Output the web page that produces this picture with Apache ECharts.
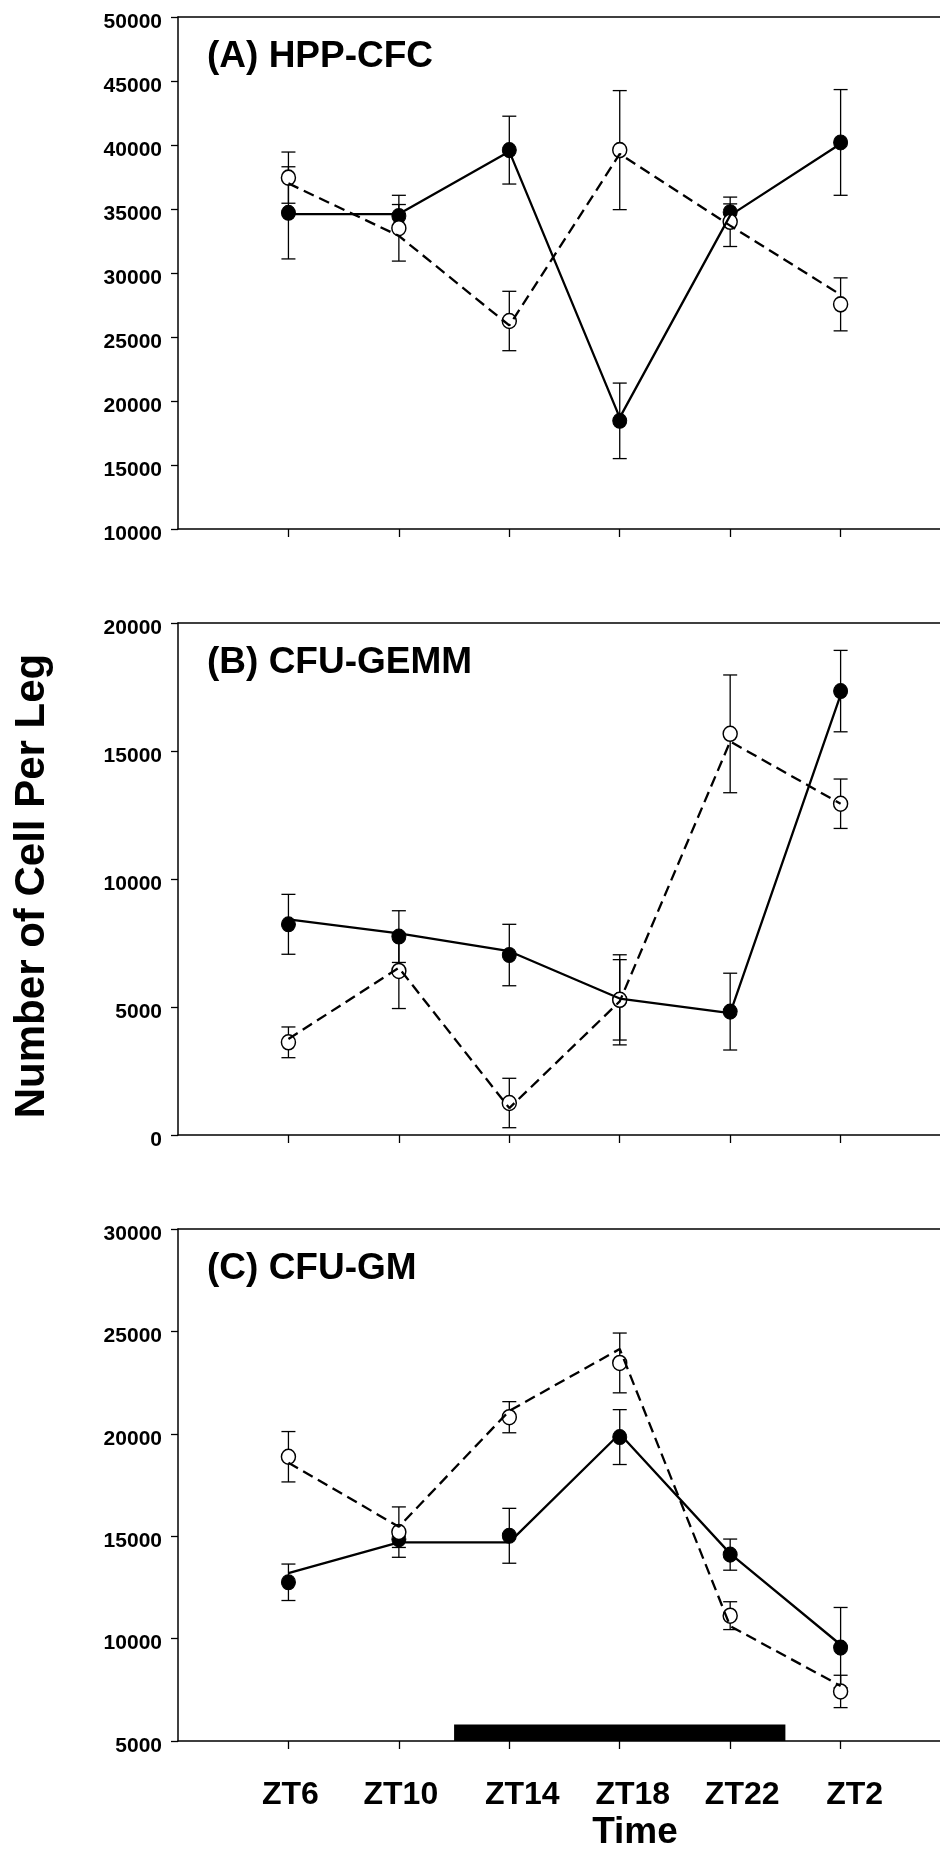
<!DOCTYPE html>
<html>
<head>
<meta charset="utf-8">
<script src="https://cdn.jsdelivr.net/npm/echarts@6/dist/echarts.min.js"></script>
<style>
html,body{margin:0;padding:0;background:#fff;}
#chart{width:940px;height:1849px;}
</style>
</head>
<body>
<div id="chart"></div>
<script>
// ---- data ----
const categories = ['ZT6', 'ZT10', 'ZT14', 'ZT18', 'ZT22', 'ZT2'];
const panelTitles = ['(A) HPP-CFC', '(B) CFU-GEMM', '(C) CFU-GM'];
const yMins = [10000, 0, 5000];
const yMaxs = [50000, 20000, 30000];
const yIntervals = [5000, 5000, 5000];

// Panel A: HPP-CFC
const aFilled = [34700, 34450, 39600, 18450, 34750, 40200];
const aFilledErr = [3600, 900, 2650, 2950, 650, 4130];
const aOpen = [37450, 33500, 26250, 39600, 34000, 27550];
const aOpenErr = [2000, 2570, 2320, 4650, 1930, 2070];
const aSolidLine = [34600, 34600, 39500, 18700, 34500, 40100];
const aDashedLine = [37000, 32900, 25900, 39300, 33700, 28300];

// Panel B: CFU-GEMM
const bFilled = [8230, 7750, 7030, 5280, 4820, 17340];
const bFilledErr = [1170, 1010, 1200, 1570, 1500, 1590];
const bOpen = [3620, 6410, 1250, 5280, 15670, 12940];
const bOpenErr = [600, 1470, 965, 1760, 2300, 965];
const bSolidLine = [8420, 7880, 7180, 5330, 4760, 17190];
const bDashedLine = [3750, 6530, 1050, 5220, 15370, 12940];

// Panel C: CFU-GM
const cFilled = [12750, 14850, 15020, 19840, 14100, 9560];
const cFilledErr = [890, 400, 1340, 1340, 760, 1960];
const cOpen = [18880, 15200, 20810, 23460, 11120, 7420];
const cOpenErr = [1230, 1230, 760, 1460, 680, 790];
const cSolidLine = [13200, 14700, 14700, 20000, 14150, 9700];
const cDashedLine = [18590, 15460, 21120, 24140, 10610, 7690];

// Dark period bar (x from/to in category units, top value) on panel C
const darkBarX = [2.5, 5.5];
const darkBarTop = 5800;

// ---- build ----
const FONT = "'Liberation Sans', Arial, Helvetica, sans-serif";
function hasFont(name) {
  const c = document.createElement('canvas').getContext('2d');
  c.font = 'bold 40px monospace';
  const a = c.measureText('50000 ZTmw').width;
  c.font = 'bold 40px "' + name + '", monospace';
  const b = c.measureText('50000 ZTmw').width;
  return Math.abs(a - b) > 0.5;
}
const narrowOK = hasFont('Liberation Sans Narrow');
const Y_FONT = narrowOK ? "'Liberation Sans Narrow', 'Liberation Sans', Arial, sans-serif" : FONT;
const Y_SIZE = narrowOK ? 24 : 21;

// horizontal nudges of the x tick labels (px), as in the source figure
const xLabelShift = [2, 2, 13, 13, 12, 14];

const gridTops = [17, 623, 1229];
const GRID_H = 512;
const XMIN = 0, XMAX = 6.9;

const panels = [
  {filled: aFilled, fErr: aFilledErr, open: aOpen, oErr: aOpenErr, solid: aSolidLine, dashed: aDashedLine},
  {filled: bFilled, fErr: bFilledErr, open: bOpen, oErr: bOpenErr, solid: bSolidLine, dashed: bDashedLine},
  {filled: cFilled, fErr: cFilledErr, open: cOpen, oErr: cOpenErr, solid: cSolidLine, dashed: cDashedLine}
];

const xs = categories.map((c, i) => i + 1);
const pts = arr => arr.map((v, i) => [xs[i], v]);
const errs = (vals, e) => vals.map((v, i) => [xs[i], v - e[i], v + e[i]]);

function errorRender(params, api) {
  const x = api.value(0), lo = api.value(1), hi = api.value(2);
  const pH = api.coord([x, hi]), pL = api.coord([x, lo]);
  const w = 7;
  const st = {stroke: '#000', lineWidth: 1.3};
  return {type: 'group', children: [
    {type: 'line', shape: {x1: pH[0], y1: pH[1], x2: pL[0], y2: pL[1]}, style: st},
    {type: 'line', shape: {x1: pH[0] - w, y1: pH[1], x2: pH[0] + w, y2: pH[1]}, style: st},
    {type: 'line', shape: {x1: pL[0] - w, y1: pL[1], x2: pL[0] + w, y2: pL[1]}, style: st}
  ]};
}

const xRich = {};
xLabelShift.forEach((s, i) => {
  xRich['s' + i] = {
    fontFamily: FONT, fontWeight: 'bold', fontSize: 32, color: '#000',
    padding: [0, 0, 0, 2 * s]
  };
});

const grid = [], xAxis = [], yAxis = [], series = [], title = [];
panels.forEach((p, k) => {
  grid.push({left: 178, right: 0, top: gridTops[k], height: GRID_H});
  const isLast = k === panels.length - 1;
  xAxis.push({
    type: 'value', gridIndex: k, min: XMIN, max: XMAX, position: 'bottom',
    axisLine: {show: true, onZero: false, lineStyle: {color: '#000', width: 1.5}},
    axisTick: {show: true, inside: false, length: 8, customValues: xs, lineStyle: {color: '#000', width: 1.3}},
    axisLabel: {
      show: isLast, customValues: xs, margin: 38,
      formatter: v => {
        const i = Math.round(v) - 1;
        return categories[i] ? '{s' + i + '|' + categories[i] + '}' : '';
      },
      rich: xRich,
      fontFamily: FONT, fontWeight: 'bold', fontSize: 32, color: '#000'
    },
    splitLine: {show: false}
  });
  xAxis.push({
    type: 'value', gridIndex: k, min: XMIN, max: XMAX, position: 'top',
    axisLine: {show: true, onZero: false, lineStyle: {color: '#000', width: 1.5}},
    axisTick: {show: false}, axisLabel: {show: false}, splitLine: {show: false}
  });
  yAxis.push({
    type: 'value', gridIndex: k, min: yMins[k], max: yMaxs[k], interval: yIntervals[k],
    axisLine: {show: true, onZero: false, lineStyle: {color: '#000', width: 1.5}},
    axisTick: {show: true, inside: false, length: 7, lineStyle: {color: '#000', width: 1.3}},
    axisLabel: {
      margin: 16, fontFamily: Y_FONT, fontWeight: 'bold', fontSize: Y_SIZE, color: '#000',
      formatter: v => '{y|' + v + '}',
      rich: {y: {fontFamily: Y_FONT, fontWeight: 'bold', fontSize: Y_SIZE, color: '#000', padding: [10, 0, 0, 0]}}
    },
    splitLine: {show: false}
  });
  title.push({
    text: panelTitles[k], left: 207, top: gridTops[k] + 21,
    textStyle: {fontFamily: FONT, fontWeight: 'bold', fontSize: 37, color: '#000'},
    padding: 0
  });
  const xi = k * 2, yi = k;
  series.push({
    type: 'custom', xAxisIndex: xi, yAxisIndex: yi, renderItem: errorRender,
    data: errs(p.filled, p.fErr), encode: {x: 0, y: [1, 2]}, z: 2, silent: true
  });
  series.push({
    type: 'custom', xAxisIndex: xi, yAxisIndex: yi, renderItem: errorRender,
    data: errs(p.open, p.oErr), encode: {x: 0, y: [1, 2]}, z: 2, silent: true
  });
  series.push({
    type: 'scatter', xAxisIndex: xi, yAxisIndex: yi, data: pts(p.filled),
    symbol: 'circle', symbolSize: [14, 15], z: 3,
    itemStyle: {color: '#000', borderColor: '#000', borderWidth: 1, opacity: 1}
  });
  series.push({
    type: 'scatter', xAxisIndex: xi, yAxisIndex: yi, data: pts(p.open),
    symbol: 'circle', symbolSize: [14, 15], z: 3,
    itemStyle: {color: '#fff', borderColor: '#000', borderWidth: 1.5, opacity: 1}
  });
  const solid = {
    type: 'line', xAxisIndex: xi, yAxisIndex: yi, data: pts(p.solid),
    showSymbol: false, symbol: 'none', z: 4, silent: true,
    lineStyle: {color: '#000', width: 2.3, type: 'solid'}
  };
  if (isLast) {
    solid.markArea = {
      silent: true,
      itemStyle: {color: '#000', opacity: 1},
      data: [[{coord: [darkBarX[0], yMins[k]]}, {coord: [darkBarX[1], darkBarTop]}]]
    };
  }
  series.push(solid);
  series.push({
    type: 'line', xAxisIndex: xi, yAxisIndex: yi, data: pts(p.dashed),
    showSymbol: false, symbol: 'none', z: 4, silent: true,
    lineStyle: {color: '#000', width: 2.3, type: [11, 6]}
  });
});

const chart = echarts.init(document.getElementById('chart'), null, {renderer: 'canvas'});
chart.setOption({
  animation: false,
  backgroundColor: '#fff',
  title: title,
  grid: grid,
  xAxis: xAxis,
  yAxis: yAxis,
  series: series,
  graphic: [
    {
      type: 'text', x: 32, y: 886, rotation: Math.PI / 2,
      style: {
        text: 'Number of Cell Per Leg', fontFamily: FONT, fontWeight: 'bold', fontSize: 42,
        fill: '#000', align: 'center', verticalAlign: 'middle'
      }
    },
    {
      type: 'text', x: 635, y: 1814,
      style: {
        text: 'Time', fontFamily: FONT, fontWeight: 'bold', fontSize: 37,
        fill: '#000', align: 'center', verticalAlign: 'top'
      }
    }
  ]
});
</script>
</body>
</html>
